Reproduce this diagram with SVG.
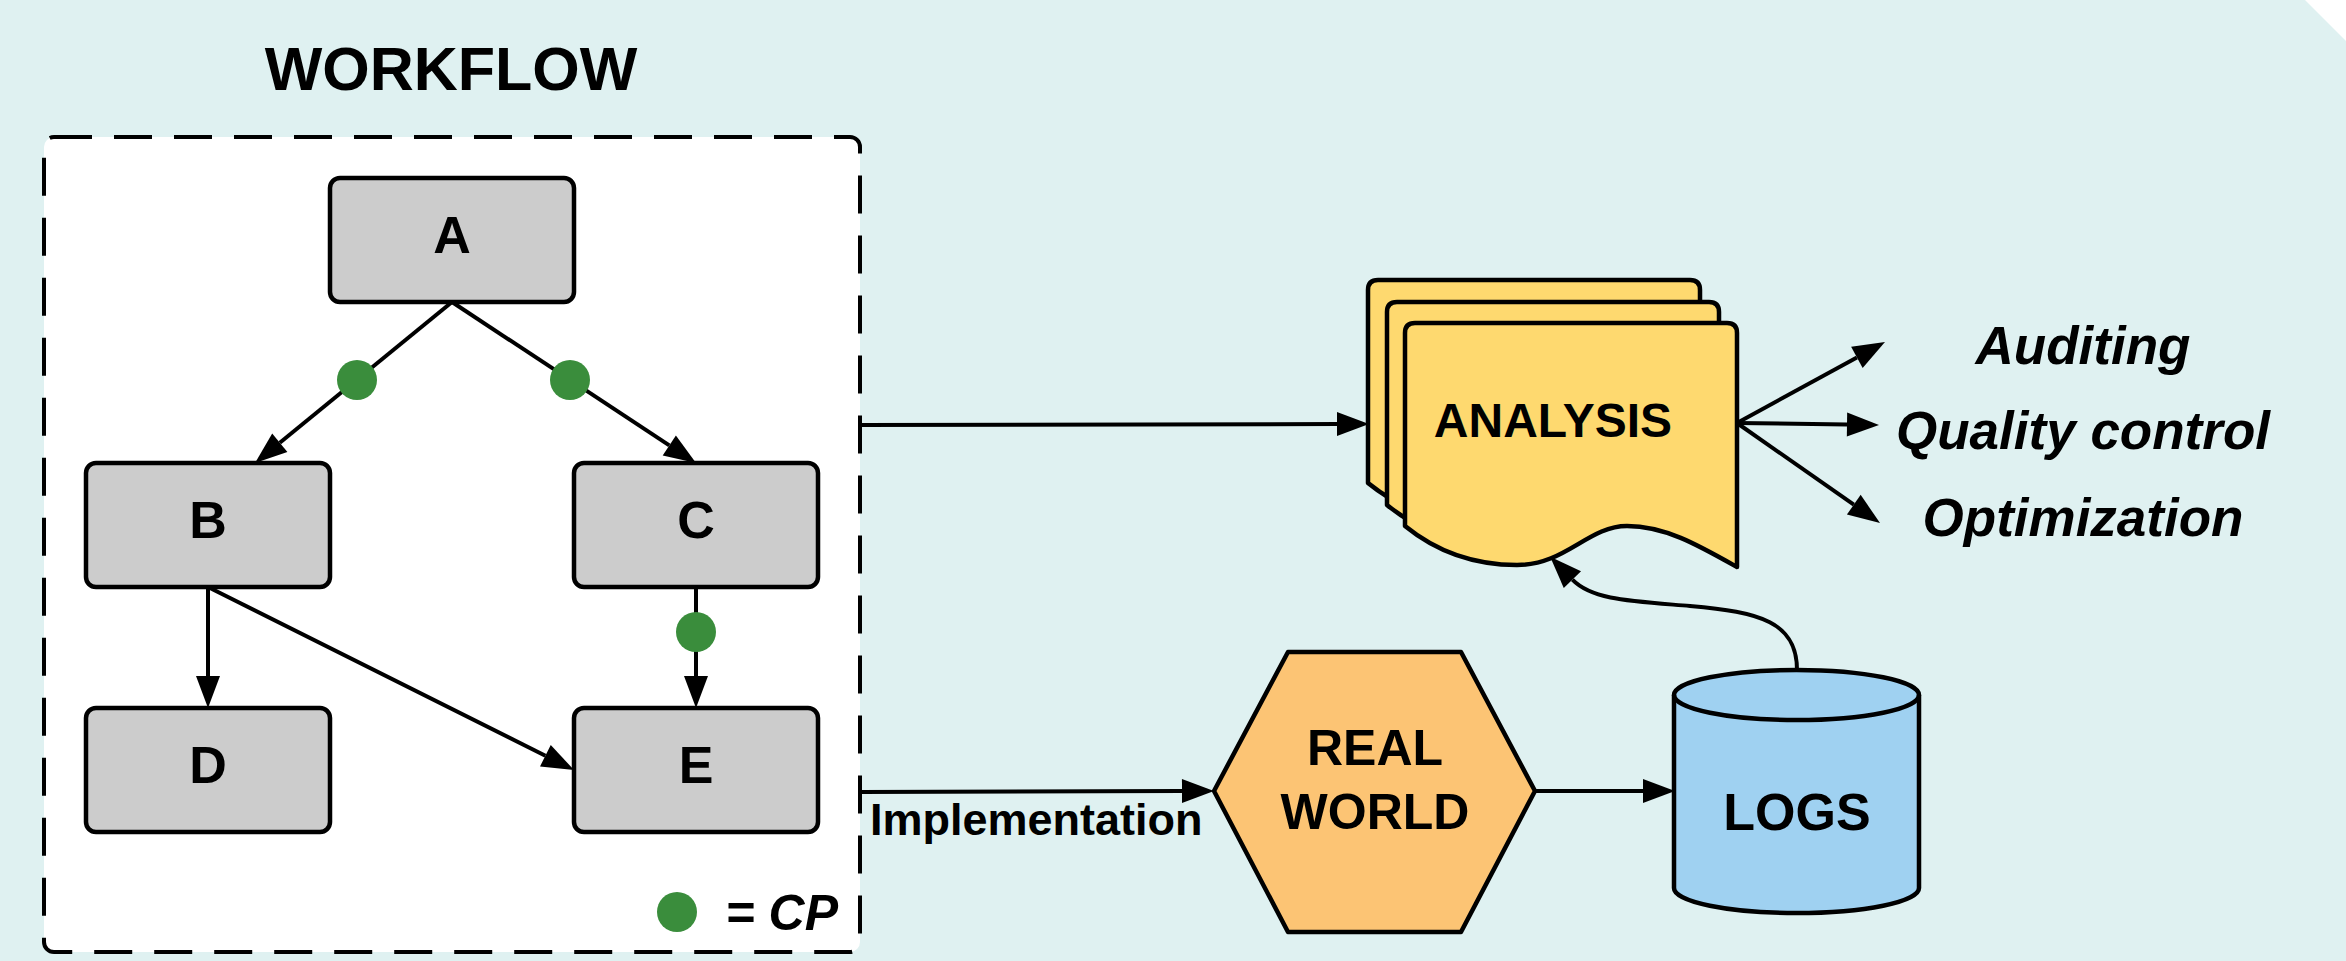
<svg xmlns="http://www.w3.org/2000/svg" width="2346" height="961" viewBox="0 0 2346 961">
<defs>
<style>
.bx{fill:#cccccc;stroke:#000;stroke-width:4.5}
.lbl{font-family:"Liberation Sans",Arial,sans-serif;font-weight:bold;fill:#000;text-anchor:middle}
.it{font-style:italic}
.ed{fill:none;stroke:#000;stroke-width:4}
.cp{fill:#3a8d3c}
.doc{fill:#fed96f;stroke:#000;stroke-width:4.5;stroke-linejoin:round}
</style>
<marker id="ah" markerUnits="userSpaceOnUse" markerWidth="34" markerHeight="26" refX="0" refY="12" orient="auto" overflow="visible">
<path d="M0,0 L32,12 L0,24 Z" fill="#000"/>
</marker>
<path id="docshape" d="M1405,333 Q1405,323 1415,323 L1727,323 Q1737,323 1737,333 L1737,567 C1698,545 1665,526 1627,526 C1588,526 1566,565 1517,565 C1468,565 1432,548 1405,526 Z"/>
</defs>
<rect x="0" y="0" width="2346" height="961" fill="#dff1f1"/>
<polygon points="2305,0 2346,0 2346,41" fill="#ffffff"/>

<g id="workflow">
<rect x="44" y="137" width="816" height="815" rx="10" fill="#ffffff" stroke="#000" stroke-width="4" stroke-dasharray="38 22"/>
<text class="lbl" x="451" y="90" font-size="61">WORKFLOW</text>
</g>

<g id="connectors">
<path class="ed" d="M452,302 L279.8,442.7" marker-end="url(#ah)"/>
<path class="ed" d="M452,302 L669.3,445.4" marker-end="url(#ah)"/>
<path class="ed" d="M208,587 L208,676" marker-end="url(#ah)"/>
<path class="ed" d="M208,587 L545.4,755.7" marker-end="url(#ah)"/>
<path class="ed" d="M696,587 L696,676" marker-end="url(#ah)"/>
<path class="ed" d="M861,425 L1337,424" marker-end="url(#ah)"/>
<path class="ed" d="M861,792 L1182,791" marker-end="url(#ah)"/>
<path class="ed" d="M1535,791 L1643,791" marker-end="url(#ah)"/>
<path class="ed" d="M1797,670 C1797,622 1760,612 1690,606 C1630,601 1592,600 1572.4,579.7" marker-end="url(#ah)"/>
<path class="ed" d="M1737,423 L1856.9,357.4" marker-end="url(#ah)"/>
<path class="ed" d="M1737,423 L1847,424.5" marker-end="url(#ah)"/>
<path class="ed" d="M1737,423 L1853.8,504.7" marker-end="url(#ah)"/>
<circle class="cp" cx="357" cy="380" r="20"/>
<circle class="cp" cx="570" cy="380" r="20"/>
<circle class="cp" cx="696" cy="632" r="20"/>
<text class="lbl" x="870" y="835" font-size="45" style="text-anchor:start">Implementation</text>
</g>

<g id="A"><rect class="bx" x="330" y="178" width="244" height="124" rx="10"/><text class="lbl" x="452" y="253" font-size="52">A</text></g>
<g id="B"><rect class="bx" x="86" y="463" width="244" height="124" rx="10"/><text class="lbl" x="208" y="538" font-size="52">B</text></g>
<g id="C"><rect class="bx" x="574" y="463" width="244" height="124" rx="10"/><text class="lbl" x="696" y="538" font-size="52">C</text></g>
<g id="D"><rect class="bx" x="86" y="708" width="244" height="124" rx="10"/><text class="lbl" x="208" y="783" font-size="52">D</text></g>
<g id="E"><rect class="bx" x="574" y="708" width="244" height="124" rx="10"/><text class="lbl" x="696" y="783" font-size="52">E</text></g>

<g id="legend">
<circle class="cp" cx="677" cy="912" r="20"/>
<text class="lbl it" x="838" y="930" font-size="50" style="text-anchor:end">= CP</text>
</g>

<g id="analysis">
<use href="#docshape" class="doc" transform="translate(-37,-43)"/>
<use href="#docshape" class="doc" transform="translate(-18,-21)"/>
<use href="#docshape" class="doc"/>
<text class="lbl" x="1553" y="437" font-size="48">ANALYSIS</text>
</g>

<g id="outputs">
<text class="lbl it" x="2083" y="364" font-size="53">Auditing</text>
<text class="lbl it" x="2083" y="449" font-size="53">Quality control</text>
<text class="lbl it" x="2083" y="536" font-size="53">Optimization</text>
</g>

<g id="realworld">
<polygon points="1214,791 1288,652 1461,652 1535,791 1461,932 1288,932" fill="#fcc474" stroke="#000" stroke-width="4.5" stroke-linejoin="round"/>
<text class="lbl" x="1375" y="765" font-size="50">REAL</text>
<text class="lbl" x="1375" y="829" font-size="50">WORLD</text>
</g>

<g id="logs">
<path d="M1674,695 A122.5,25 0 0 1 1919,695 L1919,888 A122.5,25 0 0 1 1674,888 Z" fill="#9fd1f1" stroke="#000" stroke-width="4.5"/>
<path d="M1674,695 A122.5,25 0 0 0 1919,695" fill="none" stroke="#000" stroke-width="4.5"/>
<text class="lbl" x="1797" y="830" font-size="52">LOGS</text>
</g>
</svg>
